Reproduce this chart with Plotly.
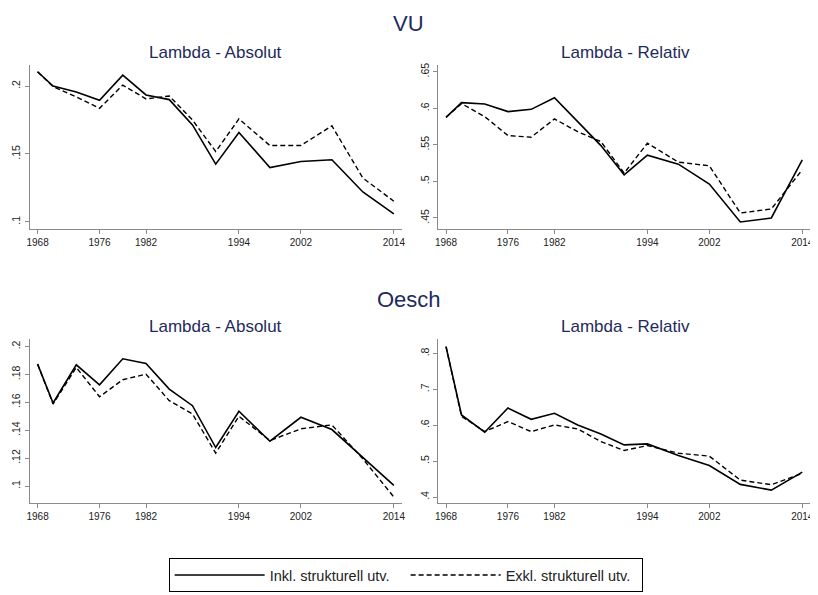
"""
Lambda absolut/relativ, VU och Oesch - Stata-lik stil i Plotly
"""
import plotly.graph_objects as go
from plotly.subplots import make_subplots

# valår
years = [1968, 1970, 1973, 1976, 1979, 1982, 1985, 1988, 1991, 1994, 1998, 2002, 2006, 2010, 2014]

# VU
vu_abs_inkl = [0.2105, 0.2000, 0.1956, 0.1895, 0.2080, 0.1934, 0.1900, 0.1714, 0.1425, 0.1658, 0.1400, 0.1445, 0.1457, 0.1220, 0.1059]
vu_abs_exkl = [0.2105, 0.1995, 0.1920, 0.1836, 0.2007, 0.1905, 0.1927, 0.1750, 0.1518, 0.1758, 0.1562, 0.1562, 0.1707, 0.1323, 0.1152]
vu_rel_inkl = [0.5877, 0.6077, 0.6059, 0.5955, 0.5986, 0.6145, 0.5818, 0.5490, 0.5090, 0.5360, 0.5236, 0.4964, 0.4445, 0.4500, 0.5295]
vu_rel_exkl = [0.5877, 0.6064, 0.5886, 0.5627, 0.5605, 0.5855, 0.5680, 0.5545, 0.5114, 0.5523, 0.5264, 0.5214, 0.4568, 0.4623, 0.5159]

# Oesch
oe_abs_inkl = [0.1874, 0.1595, 0.1869, 0.1726, 0.1912, 0.1879, 0.1695, 0.1576, 0.1276, 0.1536, 0.1321, 0.1493, 0.1405, 0.1207, 0.1005]
oe_abs_exkl = [0.1874, 0.1588, 0.1850, 0.1640, 0.1762, 0.1802, 0.1612, 0.1517, 0.1236, 0.1500, 0.1326, 0.1410, 0.1438, 0.1195, 0.0921]
oe_rel_inkl = [0.8194, 0.6287, 0.5806, 0.6481, 0.6167, 0.6333, 0.6009, 0.5759, 0.5454, 0.5481, 0.5157, 0.4880, 0.4352, 0.4194, 0.4694]
oe_rel_exkl = [0.8194, 0.6250, 0.5824, 0.6102, 0.5824, 0.6009, 0.5898, 0.5546, 0.5296, 0.5435, 0.5222, 0.5139, 0.4472, 0.4343, 0.4657]

# axlar
x_ticks = [1968, 1976, 1982, 1994, 2002, 2014]
y_ticks_vu_abs = [0.1, 0.15, 0.2]
y_text_vu_abs = [".1", ".15", ".2"]
y_ticks_vu_rel = [0.45, 0.5, 0.55, 0.6, 0.65]
y_text_vu_rel = [".45", ".5", ".55", ".6", ".65"]
y_ticks_oe_abs = [0.1, 0.12, 0.14, 0.16, 0.18, 0.2]
y_text_oe_abs = [".1", ".12", ".14", ".16", ".18", ".2"]
y_ticks_oe_rel = [0.4, 0.5, 0.6, 0.7, 0.8]
y_text_oe_rel = [".4", ".5", ".6", ".7", ".8"]

NAVY = "#1e2b5c"
AXIS = "#8a8a8a"
FONT = "Liberation Sans, Arial, sans-serif"

# sidan har 8px marginal runt diagrammet
W, H, OFF = 810, 587, 8


def px(x):
    return (x - OFF) / W


def py(y):
    return 1 - (y - OFF) / H


fig = make_subplots(rows=2, cols=2)

panels = [
    (1, 1, vu_abs_inkl, vu_abs_exkl, y_ticks_vu_abs, y_text_vu_abs, [0.0946, 0.2156]),
    (1, 2, vu_rel_inkl, vu_rel_exkl, y_ticks_vu_rel, y_text_vu_rel, [0.4346, 0.6595]),
    (2, 1, oe_abs_inkl, oe_abs_exkl, y_ticks_oe_abs, y_text_oe_abs, [0.0876, 0.2055]),
    (2, 2, oe_rel_inkl, oe_rel_exkl, y_ticks_oe_rel, y_text_oe_rel, [0.3825, 0.8408]),
]

first = True
for row, col, inkl, exkl, yt, ytt, yr in panels:
    fig.add_trace(go.Scatter(
        x=years, y=inkl, mode="lines", name="Inkl. strukturell utv.",
        line=dict(color="black", width=1.6), showlegend=first,
        legendrank=1,
    ), row=row, col=col)
    fig.add_trace(go.Scatter(
        x=years, y=exkl, mode="lines", name="Exkl. strukturell utv.",
        line=dict(color="black", width=1.4, dash="5px,3px"), showlegend=first,
        legendrank=2,
    ), row=row, col=col)
    first = False
    fig.update_xaxes(
        range=[1967, 2015], tickvals=x_ticks, showline=True, linecolor=AXIS,
        linewidth=1.3, ticks="outside", ticklen=4, tickcolor=AXIS, showgrid=False,
        zeroline=False, tickfont=dict(size=10, color="#222"),
        row=row, col=col,
    )
    fig.update_yaxes(
        range=yr, tickvals=yt, ticktext=ytt, tickangle=-90, showline=True,
        linecolor=AXIS, linewidth=1.3, ticks="outside", ticklen=4, tickcolor=AXIS,
        showgrid=False, zeroline=False, tickfont=dict(size=10.5, color="#222"),
        row=row, col=col,
    )

# panelernas placering (i referensens pixlar)
fig.update_layout(
    xaxis=dict(domain=[px(27), px(402)]),
    xaxis2=dict(domain=[px(439), px(814)]),
    xaxis3=dict(domain=[px(27), px(402)]),
    xaxis4=dict(domain=[px(439), px(814)]),
    yaxis=dict(domain=[py(228), py(63)]),
    yaxis2=dict(domain=[py(228), py(63)]),
    yaxis3=dict(domain=[py(503), py(338)]),
    yaxis4=dict(domain=[py(503), py(338)]),
)

titles = [
    ("VU", 409, 22, 22),
    ("Oesch", 409, 298, 22),
    ("Lambda - Absolut", 214.5, 51, 17),
    ("Lambda - Relativ", 627.5, 51, 17),
    ("Lambda - Absolut", 214.5, 326, 17),
    ("Lambda - Relativ", 627.5, 326, 17),
]
for text, x, y, size in titles:
    fig.add_annotation(
        text=text, x=px(x), y=py(y), xref="paper", yref="paper",
        xanchor="center", yanchor="middle", showarrow=False,
        font=dict(size=size, color=NAVY, family=FONT),
    )

fig.update_layout(
    width=W, height=H,
    margin=dict(l=0, r=0, t=0, b=0),
    paper_bgcolor="white", plot_bgcolor="white",
    font=dict(family=FONT, color="#222"),
    legend=dict(
        orientation="h", x=px(167), y=py(558),
        xanchor="left", yanchor="top",
        bordercolor="black", borderwidth=1,
        font=dict(size=14.5, color="#222"),
        itemwidth=90, entrywidth=131, entrywidthmode="pixels",
    ),
)

fig.write_html("out.html")
